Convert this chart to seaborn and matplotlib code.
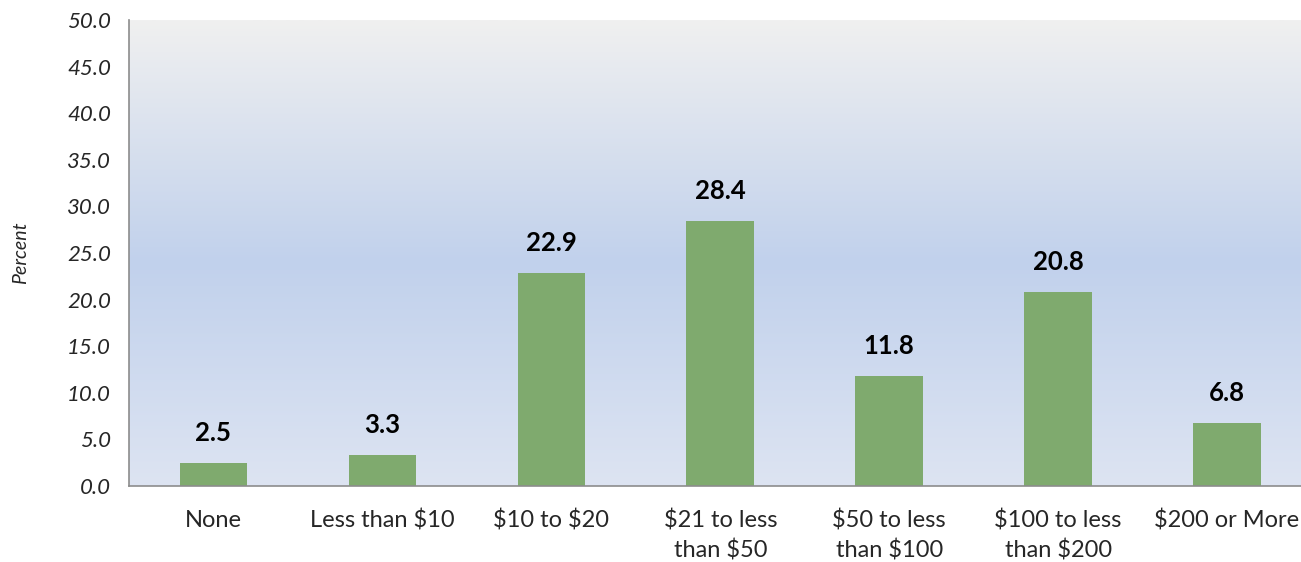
import numpy as np
import pandas as pd
import matplotlib
matplotlib.use("Agg")
import matplotlib.pyplot as plt
from matplotlib.colors import LinearSegmentedColormap
import seaborn as sns

categories = ["None", "Less than $10", "$10 to $20", "$21 to less\nthan $50",
              "$50 to less\nthan $100", "$100 to less\nthan $200", "$200 or More"]
percent = [2.5, 3.3, 22.9, 28.4, 11.8, 20.8, 6.8]
y_ticks = [0, 5, 10, 15, 20, 25, 30, 35, 40, 45, 50]

sns.set_theme(style="white")
plt.rcParams["font.family"] = ["Lato", "DejaVu Sans"]
plt.rcParams["text.parse_math"] = False

df = pd.DataFrame({"category": categories, "percent": percent})

W, H = 1301, 562
fig = plt.figure(figsize=(W / 100, H / 100), dpi=100)
ax = fig.add_axes([129 / W, (H - 486) / H, 1182.5 / W, 466 / H])

# vertical background gradient: grey at top, blue in the middle, pale blue at base
grad = LinearSegmentedColormap.from_list(
    "bg", [(0.0, "#DDE4F2"), (0.48, "#C1D1EC"), (1.0, "#F0F0F0")])
ax.imshow(np.linspace(0, 1, 256).reshape(-1, 1), cmap=grad, aspect="auto",
          origin="lower", extent=(-0.5, 6.5, 0, 50), zorder=0)

sns.barplot(data=df, x="category", y="percent", color="#7FAA6E", width=0.4,
            saturation=1, linewidth=0, edgecolor="none", ax=ax, zorder=2)

ax.set_xlim(-0.5, 6.5)
ax.set_ylim(0, 50)
ax.set_yticks(y_ticks)
ax.set_yticklabels([f"{v:.1f}" for v in y_ticks], fontstyle="italic", fontsize=16)
ax.set_xlabel("")
ax.set_ylabel("Percent", fontstyle="italic", fontsize=14)
ax.yaxis.set_label_coords(-100 / 1182.5, 0.5)

for s in ("top", "right"):
    ax.spines[s].set_visible(False)
for s in ("left", "bottom"):
    ax.spines[s].set_color("#8C8C8C")
    ax.spines[s].set_linewidth(1.2)

# category ticks sit on the boundaries between groups
ax.set_xticks(np.arange(-0.5, 6.5, 1), minor=False)
ax.set_xticklabels([])
ax.set_xticks(np.arange(7), minor=True)
ax.set_xticklabels(categories, minor=True, fontsize=17, linespacing=1.42)
ax.tick_params(axis="x", which="major", length=7, width=1.2, color="#8C8C8C", direction="out")
ax.tick_params(axis="x", which="minor", length=0, pad=17)
ax.tick_params(axis="y", length=7, width=1.2, color="#8C8C8C", direction="out", pad=6)
for lbl in ax.get_xticklabels(minor=True):
    lbl.set_verticalalignment("top")

for i, v in enumerate(percent):
    ax.annotate(f"{v:.1f}", (i, v), xytext=(0, 13), textcoords="offset points",
                ha="center", va="bottom", fontsize=18.5, fontweight="bold", color="black")

fig.savefig("out.png", dpi=100)
